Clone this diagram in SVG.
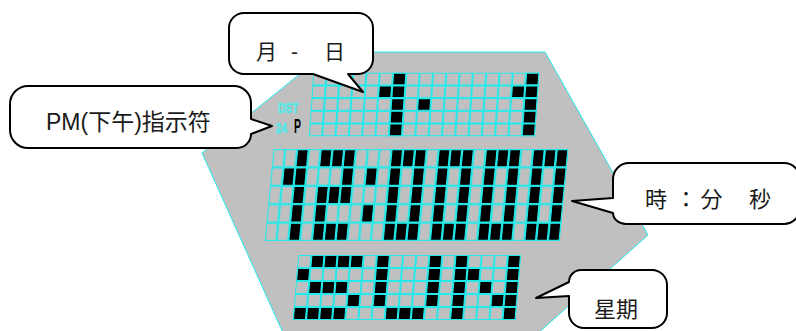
<svg xmlns="http://www.w3.org/2000/svg" xmlns:xlink="http://www.w3.org/1999/xlink" width="796" height="331" viewBox="0 0 796 331">
<style>
.bubble{fill:#fff;stroke:#000;stroke-width:2;stroke-linejoin:round}
.lbl{font-family:'Liberation Sans','Noto Sans CJK JP',sans-serif;fill:#1a1a1a}
.on{fill:#000;stroke:#22eaea;stroke-width:1.1}
.seg{font-family:'Liberation Sans',sans-serif;font-weight:bold}
</style>
<defs>
<pattern id="pm" width="11.8" height="18.4" patternUnits="userSpaceOnUse"><rect x="0.6" y="0.6" width="10.6" height="17.2" fill="none" stroke="#22eaea" stroke-width="1.1"/></pattern>
<pattern id="pt" width="13.3" height="12.7" patternUnits="userSpaceOnUse"><rect x="0.5" y="0.5" width="12.3" height="11.7" fill="none" stroke="#22eaea" stroke-width="1"/></pattern>
<pattern id="pb" width="13.1" height="13" patternUnits="userSpaceOnUse"><rect x="0.5" y="0.5" width="12.1" height="12" fill="none" stroke="#22eaea" stroke-width="1"/></pattern>
<rect id="cm" x="0.6" y="0.6" width="10.6" height="17.2"/>
<rect id="ct" x="0.5" y="0.5" width="12.3" height="11.7"/>
<rect id="cb" x="0.5" y="0.5" width="12.1" height="12"/>
<g id="d0">
<use xlink:href="#cm" x="0" y="0"/><use xlink:href="#cm" x="11.8" y="0"/><use xlink:href="#cm" x="23.6" y="0"/>
<use xlink:href="#cm" x="0" y="18.4"/><use xlink:href="#cm" x="23.6" y="18.4"/>
<use xlink:href="#cm" x="0" y="36.8"/><use xlink:href="#cm" x="23.6" y="36.8"/>
<use xlink:href="#cm" x="0" y="55.2"/><use xlink:href="#cm" x="23.6" y="55.2"/>
<use xlink:href="#cm" x="0" y="73.6"/><use xlink:href="#cm" x="11.8" y="73.6"/><use xlink:href="#cm" x="23.6" y="73.6"/>
</g>
</defs>

<g id="lcd">
<polygon points="327,52 545,52 648,235 536,335 284,335 202,153" fill="#c0c0c0" stroke="#22eaea" stroke-width="1"/>

<g id="indicators">
<text class="seg" transform="translate(278,112.7) scale(0.68,1)" font-size="15" fill="#7ee8e8" stroke="#22eaea" stroke-width="0.6">DST</text>
<text class="seg" transform="translate(276,133) scale(0.66,1)" font-size="15" fill="#7ee8e8" stroke="#22eaea" stroke-width="0.6">24</text>
<text class="seg" transform="translate(294,133) scale(0.5,1)" font-size="21" fill="#000">P</text>
</g>

<g id="date-grid" transform="translate(313.3,72.7) skewX(-4)">
<rect x="0" y="0" width="226.1" height="63.5" fill="url(#pt)"/>
<g class="on">
<use xlink:href="#ct" x="79.8" y="0"/><use xlink:href="#ct" x="212.8" y="0"/>
<use xlink:href="#ct" x="66.5" y="12.7"/><use xlink:href="#ct" x="79.8" y="12.7"/><use xlink:href="#ct" x="199.5" y="12.7"/><use xlink:href="#ct" x="212.8" y="12.7"/>
<use xlink:href="#ct" x="79.8" y="25.4"/><use xlink:href="#ct" x="106.4" y="25.4"/><use xlink:href="#ct" x="212.8" y="25.4"/>
<use xlink:href="#ct" x="79.8" y="38.1"/><use xlink:href="#ct" x="212.8" y="38.1"/>
<use xlink:href="#ct" x="79.8" y="50.8"/><use xlink:href="#ct" x="212.8" y="50.8"/>
</g>
</g>

<g id="time-grid" transform="translate(273.5,149) skewX(-5.5)">
<rect x="0" y="0" width="295" height="92" fill="url(#pm)"/>
<g class="on">
<use xlink:href="#cm" x="23.6" y="0"/><use xlink:href="#cm" x="11.8" y="18.4"/><use xlink:href="#cm" x="23.6" y="18.4"/><use xlink:href="#cm" x="23.6" y="36.8"/><use xlink:href="#cm" x="23.6" y="55.2"/><use xlink:href="#cm" x="23.6" y="73.6"/>
<use xlink:href="#cm" x="47.2" y="0"/><use xlink:href="#cm" x="59" y="0"/><use xlink:href="#cm" x="70.8" y="0"/>
<use xlink:href="#cm" x="70.8" y="18.4"/>
<use xlink:href="#cm" x="47.2" y="36.8"/><use xlink:href="#cm" x="59" y="36.8"/><use xlink:href="#cm" x="70.8" y="36.8"/>
<use xlink:href="#cm" x="47.2" y="55.2"/>
<use xlink:href="#cm" x="47.2" y="73.6"/><use xlink:href="#cm" x="59" y="73.6"/><use xlink:href="#cm" x="70.8" y="73.6"/>
<use xlink:href="#cm" x="94.4" y="18.4"/><use xlink:href="#cm" x="94.4" y="55.2"/>
<use xlink:href="#d0" x="118" y="0"/><use xlink:href="#d0" x="165.2" y="0"/><use xlink:href="#d0" x="212.4" y="0"/><use xlink:href="#d0" x="259.6" y="0"/>
</g>
</g>

<g id="day-grid" transform="translate(298.3,255) skewX(-4.8)">
<rect x="0" y="0" width="222.7" height="65" fill="url(#pb)"/>
<g class="on">
<use xlink:href="#cb" x="13.1" y="0"/><use xlink:href="#cb" x="26.2" y="0"/><use xlink:href="#cb" x="39.3" y="0"/><use xlink:href="#cb" x="52.4" y="0"/><use xlink:href="#cb" x="78.6" y="0"/><use xlink:href="#cb" x="131" y="0"/><use xlink:href="#cb" x="157.2" y="0"/><use xlink:href="#cb" x="209.6" y="0"/>
<use xlink:href="#cb" x="0" y="13"/><use xlink:href="#cb" x="78.6" y="13"/><use xlink:href="#cb" x="131" y="13"/><use xlink:href="#cb" x="157.2" y="13"/><use xlink:href="#cb" x="170.3" y="13"/><use xlink:href="#cb" x="209.6" y="13"/>
<use xlink:href="#cb" x="13.1" y="26"/><use xlink:href="#cb" x="26.2" y="26"/><use xlink:href="#cb" x="39.3" y="26"/><use xlink:href="#cb" x="78.6" y="26"/><use xlink:href="#cb" x="131" y="26"/><use xlink:href="#cb" x="157.2" y="26"/><use xlink:href="#cb" x="183.4" y="26"/><use xlink:href="#cb" x="209.6" y="26"/>
<use xlink:href="#cb" x="52.4" y="39"/><use xlink:href="#cb" x="78.6" y="39"/><use xlink:href="#cb" x="131" y="39"/><use xlink:href="#cb" x="157.2" y="39"/><use xlink:href="#cb" x="196.5" y="39"/><use xlink:href="#cb" x="209.6" y="39"/>
<use xlink:href="#cb" x="0" y="52"/><use xlink:href="#cb" x="13.1" y="52"/><use xlink:href="#cb" x="26.2" y="52"/><use xlink:href="#cb" x="39.3" y="52"/><use xlink:href="#cb" x="91.7" y="52"/><use xlink:href="#cb" x="104.8" y="52"/><use xlink:href="#cb" x="117.9" y="52"/><use xlink:href="#cb" x="157.2" y="52"/><use xlink:href="#cb" x="209.6" y="52"/>
</g>
</g>
</g>

<g id="connectors"/>

<g id="callout-date">
<path class="bubble" d="M244,13 H358 A15,15 0 0 1 373,28 V59 A15,15 0 0 1 358,74 H348 L363,92 L313,74 H244 A15,15 0 0 1 229,59 V28 A15,15 0 0 1 244,13 Z"/>
<text class="lbl" font-size="21" y="58.5"><tspan x="256">月 </tspan><tspan x="291">- </tspan><tspan x="324">日</tspan></text>
</g>

<g id="callout-pm">
<path class="bubble" d="M28,86 H234 A17,17 0 0 1 251,103 V119 L272,126 L251,134 A14,14 0 0 1 237,148 H28 A18,18 0 0 1 10,130 V104 A18,18 0 0 1 28,86 Z"/>
<text class="lbl" font-size="23" x="46" y="130">PM(下午)指示符</text>
</g>

<g id="callout-time">
<path class="bubble" d="M629,163 H784 A16,16 0 0 1 800,179 V208 A16,16 0 0 1 784,224 H626 A13,11 0 0 1 613,213 L572,201 L613,198 V179 A16,16 0 0 1 629,163 Z"/>
<text class="lbl" font-size="22" y="206.5"><tspan x="645">時</tspan><tspan x="675">：</tspan><tspan x="700.5">分 </tspan><tspan x="749">秒</tspan></text>
</g>

<g id="callout-day">
<path class="bubble" d="M581,270 H652 A15,15 0 0 1 667,285 V313 A15,15 0 0 1 652,328 H584 A15,15 0 0 1 569,313 V296 L536,298 L569,282 A12,12 0 0 1 581,270 Z"/>
<text class="lbl" font-size="22" x="594" y="317">星期</text>
</g>
</svg>
